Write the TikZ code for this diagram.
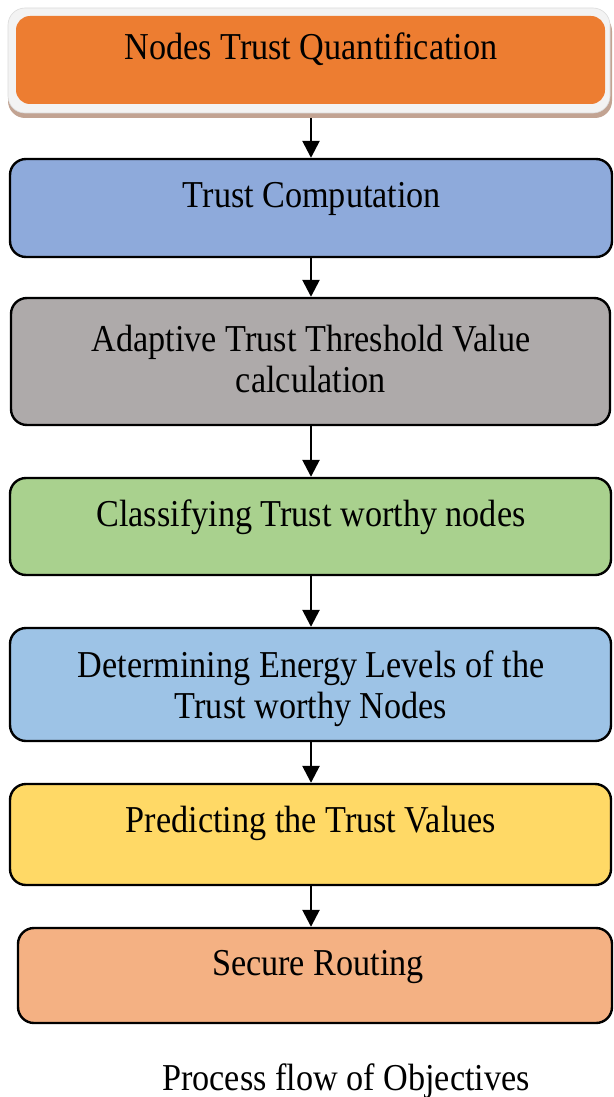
\documentclass[tikz,border=0pt]{standalone}
\usepackage{fontspec}
\setmainfont{Liberation Serif}
\usetikzlibrary{arrows.meta}
\definecolor{cOrange}{HTML}{ED7D31}
\definecolor{cRim}{HTML}{F3F3F3}
\definecolor{cRimLine}{HTML}{DADADA}
\definecolor{cShadow}{HTML}{C2A392}
\definecolor{cBlueA}{HTML}{8EAADB}
\definecolor{cGray}{HTML}{AEAAAA}
\definecolor{cGreen}{HTML}{A9D18E}
\definecolor{cBlueB}{HTML}{9DC3E6}
\definecolor{cYellow}{HTML}{FFD966}
\definecolor{cSalmon}{HTML}{F4B183}
\newcommand\narrowtxt[1]{\scalebox{0.9}[1]{#1}}
\begin{document}
\begin{tikzpicture}[x=1pt,y=-1pt,
  boxstyle/.style={draw=black, line width=2.4pt, rounded corners=16pt, inner sep=0pt},
  plainbox/.style={rounded corners=17pt, inner sep=0pt},
  lbl/.style={font=\fontsize{38}{41}\selectfont, anchor=base, inner sep=0pt},
  flow/.style={draw=black, line width=2.6pt, -{Triangle[length=17pt,width=17pt]}}]
\useasboundingbox (0,0) rectangle (613,1097);
% box 1 with rim and shadow
\node[plainbox, fill=cShadow, minimum width=604pt, minimum height=104pt] (b1s) at (310,66) {};
\node[plainbox, fill=cRim, draw=cRimLine, line width=0.6pt, minimum width=602pt, minimum height=105pt] (b1r) at (309,60.5) {};
\node[plainbox, fill=cOrange, rounded corners=14pt, minimum width=589pt, minimum height=88pt] (b1) at (310.5,60) {};
\node[lbl] (t1) at (311,60) {\narrowtxt{Nodes Trust Quantification}};
% box 2
\node[boxstyle, fill=cBlueA, minimum width=602pt, minimum height=98pt] (b2) at (311,208) {};
\node[lbl] (t2) at (312,207) {\narrowtxt{Trust Computation}};
% box 3
\node[boxstyle, fill=cGray, minimum width=599pt, minimum height=127pt] (b3) at (310.5,361.5) {};
\node[lbl] (t3a) at (311,351) {\narrowtxt{Adaptive Trust Threshold Value}};
\node[lbl] (t3b) at (311,392) {\narrowtxt{calculation}};
% box 4
\node[boxstyle, fill=cGreen, minimum width=601pt, minimum height=97pt] (b4) at (310.5,526.5) {};
\node[lbl] (t4) at (311,526) {\narrowtxt{Classifying Trust worthy nodes}};
% box 5
\node[boxstyle, fill=cBlueB, minimum width=601pt, minimum height=113pt] (b5) at (310.5,684.5) {};
\node[lbl] (t5a) at (311,677) {\narrowtxt{Determining Energy Levels of the}};
\node[lbl] (t5b) at (311,718) {\narrowtxt{Trust worthy Nodes}};
% box 6
\node[boxstyle, fill=cYellow, minimum width=601pt, minimum height=101pt] (b6) at (310.5,834.5) {};
\node[lbl] (t6) at (311,832) {\narrowtxt{Predicting the Trust Values}};
% box 7
\node[boxstyle, fill=cSalmon, minimum width=594pt, minimum height=95pt] (b7) at (315,975.5) {};
\node[lbl] (t7) at (318,975) {\narrowtxt{Secure Routing}};
% caption
\node[lbl] (cap) at (346,1090) {\narrowtxt{Process flow of Objectives}};
% connectors
\draw[flow] (b1s.south -| b2.north) -- (b2.north);
\draw[flow] (b2.south) -- (b3.north -| b2.south);
\draw[flow] (b3.south -| b2.south) -- (b4.north -| b2.south);
\draw[flow] (b4.south -| b2.south) -- (b5.north -| b2.south);
\draw[flow] (b5.south -| b2.south) -- (b6.north -| b2.south);
\draw[flow] (b6.south -| b2.south) -- (b7.north -| b2.south);
\end{tikzpicture}
\end{document}
